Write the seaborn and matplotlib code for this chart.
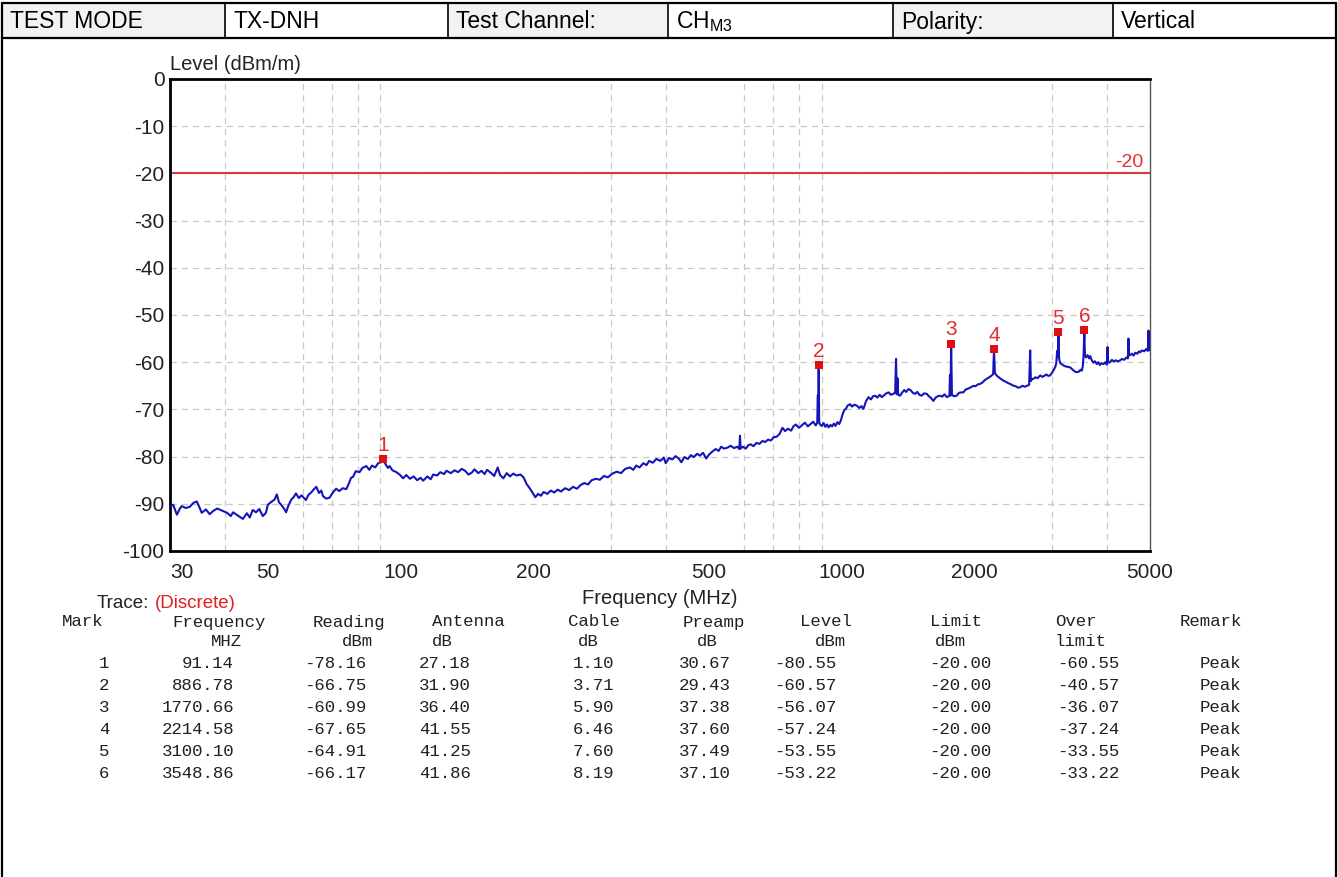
import matplotlib
matplotlib.use("Agg")
import matplotlib.pyplot as plt
import seaborn as sns
import pandas as pd
from matplotlib.patches import Rectangle
from matplotlib.ticker import FixedLocator, NullFormatter

# header row of the test report
header_cells = ["TEST MODE", "TX-DNH", "Test Channel:", r"CH$_{\mathrm{M3}}$", "Polarity:", "Vertical"]

trace_freq = [
    30.0, 30.5, 31.1, 31.6, 31.9, 32.6, 33.3, 33.9, 34.5, 35.0, 35.4, 36.2, 36.9, 37.6, 38.4, 39.5,
    40.4, 41.2, 41.7, 42.6, 43.9, 44.8, 45.5, 46.2, 47.0, 47.8, 48.7, 49.5, 50.0, 50.9, 51.8, 52.4,
    53.0, 53.6, 54.4, 55.0, 55.6, 56.5, 57.2, 57.9, 58.8, 59.6, 61.0, 61.8, 62.7, 63.6, 64.4, 65.3,
    66.1, 66.7, 67.8, 69.0, 70.2, 71.4, 72.6, 73.9, 75.3, 76.4, 77.2, 78.0, 79.1, 80.7, 81.9, 83.6,
    84.9, 86.1, 87.6, 88.9, 90.3, 91.14, 92.4, 93.6, 94.4, 95.8, 97.8, 99.5, 101.3, 103.0, 105.0, 107.0,
    109.0, 111.0, 112.5, 115.0, 117.0, 118.5, 121.0, 123.0, 125.5, 127.0, 130.0, 132.5, 135.0, 137.5, 140.0, 142.5,
    145.0, 147.0, 150.0, 152.5, 155.0, 157.0, 160.0, 163.0, 166.0, 168.0, 171.0, 174.0, 177.0, 180.0, 183.0, 187.0,
    190.0, 193.0, 196.5, 199.0, 202.0, 205.0, 208.0, 211.0, 215.0, 219.0, 223.0, 227.0, 231.0, 236.0, 241.0, 246.0,
    251.0, 256.0, 261.0, 266.0, 271.0, 277.0, 283.0, 289.0, 295.0, 302.0, 309.0, 316.0, 323.0, 331.0, 337.0, 342.0,
    348.0, 355.0, 361.0, 366.0, 373.0, 380.0, 388.0, 395.0, 399.0, 406.0, 413.0, 420.0, 427.0, 433.0, 440.0, 448.0,
    455.0, 462.0, 470.0, 477.0, 485.0, 493.0, 500.0, 508.0, 518.0, 526.0, 533.0, 541.0, 551.0, 560.0, 570.0, 580.0,
    586.0, 588.0, 590.0, 597.0, 606.0, 614.0, 622.0, 631.0, 641.0, 651.0, 661.0, 671.0, 681.0, 691.0, 701.0, 712.0,
    723.0, 734.0, 744.0, 755.0, 768.0, 777.0, 787.0, 800.0, 812.0, 825.0, 838.0, 850.0, 862.0, 873.0, 880.0, 883.0,
    884.5, 886.78, 889.0, 895.0, 901.0, 910.0, 918.0, 926.0, 934.0, 943.0, 951.0, 960.0, 968.0, 978.0, 987.0, 995.0,
    1005.0, 1014.0, 1022.0, 1031.0, 1045.0, 1055.0, 1068.0, 1082.0, 1096.0, 1108.0, 1120.0, 1135.0, 1150.0, 1165.0, 1178.0, 1191.0,
    1205.0, 1219.0, 1233.0, 1248.0, 1262.0, 1277.0, 1293.0, 1310.0, 1322.0, 1328.0, 1333.0, 1338.0, 1343.0, 1356.0, 1372.0, 1386.0,
    1400.0, 1417.0, 1432.0, 1450.0, 1467.0, 1484.0, 1500.0, 1518.0, 1538.0, 1559.0, 1576.0, 1595.0, 1614.0, 1633.0, 1652.0, 1671.0,
    1690.0, 1710.0, 1731.0, 1748.0, 1755.0, 1760.0, 1765.0, 1770.66, 1778.0, 1795.0, 1822.0, 1845.0, 1865.0, 1887.0, 1910.0, 1932.0,
    1955.0, 1989.0, 2010.0, 2035.0, 2060.0, 2085.0, 2110.0, 2133.0, 2160.0, 2190.0, 2205.0, 2214.58, 2225.0, 2245.0, 2270.0, 2300.0,
    2326.0, 2350.0, 2380.0, 2409.0, 2440.0, 2480.0, 2510.0, 2538.0, 2570.0, 2600.0, 2630.0, 2660.0, 2675.0, 2685.0, 2700.0, 2722.0,
    2750.0, 2780.0, 2819.0, 2850.0, 2880.0, 2910.0, 2940.0, 2969.0, 3000.0, 3025.0, 3047.0, 3065.0, 3080.0, 3090.0, 3100.1, 3112.0,
    3130.0, 3160.0, 3183.0, 3220.0, 3260.0, 3297.0, 3340.0, 3380.0, 3414.0, 3450.0, 3480.0, 3503.0, 3520.0, 3535.0, 3548.86, 3560.0,
    3580.0, 3610.0, 3640.0, 3660.0, 3690.0, 3720.0, 3750.0, 3789.0, 3820.0, 3850.0, 3880.0, 3921.0, 3960.0, 3990.0, 4006.0, 4020.0,
    4061.0, 4100.0, 4140.0, 4180.0, 4230.0, 4279.0, 4320.0, 4370.0, 4420.0, 4455.0, 4468.0, 4480.0, 4520.0, 4548.0, 4590.0, 4630.0,
    4680.0, 4720.0, 4750.0, 4800.0, 4850.0, 4890.0, 4917.0, 4945.0, 4960.0, 4975.0, 5000.0,
]
trace_level = [
    -90.6, -90.2, -92.3, -91.0, -90.5, -90.9, -90.6, -89.8, -89.5, -90.8, -91.9, -91.2, -92.2, -91.5, -91.0, -91.5,
    -91.9, -92.6, -91.8, -92.4, -93.2, -92.0, -92.9, -91.3, -91.8, -91.1, -92.6, -91.9, -90.2, -89.6, -89.1, -88.0,
    -89.7, -90.2, -91.0, -91.8, -90.5, -89.1, -88.6, -87.8, -88.8, -88.2, -89.2, -88.1, -87.6, -86.9, -86.4, -87.7,
    -87.2, -88.4, -88.9, -88.7, -87.6, -86.8, -87.3, -86.7, -86.9, -85.6, -84.5, -84.3, -83.1, -83.3, -82.4, -82.0,
    -82.8, -81.9, -82.3, -81.4, -81.2, -80.55, -81.6, -82.4, -82.0, -82.9, -83.3, -83.8, -84.6, -83.9, -84.7, -84.2,
    -85.0, -84.5, -85.1, -84.2, -84.8, -83.8, -84.0, -83.3, -83.7, -83.0, -83.5, -82.9, -83.3, -82.6, -83.0, -83.8,
    -83.4, -82.7, -83.5, -83.0, -83.7, -82.8, -83.4, -84.1, -82.3, -83.9, -84.6, -83.5, -84.2, -83.6, -84.0, -83.8,
    -84.4, -85.8, -86.8, -87.6, -88.6, -87.9, -88.3, -87.5, -87.9, -87.2, -87.6, -87.0, -87.4, -86.7, -87.1, -86.4,
    -86.8, -86.0, -85.6, -85.9, -85.0, -84.7, -84.9, -84.1, -84.4, -83.6, -83.2, -83.5, -82.6, -82.3, -82.8, -81.9,
    -82.3, -81.4, -81.8, -80.9, -81.3, -80.5, -80.9, -80.2, -81.4, -80.3, -80.6, -79.9, -80.4, -81.2, -80.1, -80.5,
    -79.7, -80.1, -79.4, -79.8, -79.2, -80.4, -79.6, -79.0, -78.4, -78.8, -77.9, -78.3, -78.1, -77.7, -78.2, -77.9,
    -78.4, -75.6, -78.3, -77.9, -78.3, -77.6, -77.4, -77.8, -77.1, -77.3, -76.7, -76.9, -76.4, -76.6, -75.9, -75.8,
    -75.2, -73.9, -74.6, -74.1, -74.5, -73.6, -73.2, -73.9, -73.4, -72.8, -73.6, -73.1, -72.6, -73.4, -72.9, -67.0,
    -72.5, -60.57, -72.8, -73.3, -73.5, -72.9, -73.7, -73.2, -73.8, -73.3, -73.6, -73.0, -73.5, -72.7, -73.1, -72.4,
    -71.0, -70.1, -69.9, -69.2, -68.9, -69.4, -69.0, -69.2, -69.7, -69.3, -69.9, -68.3, -67.4, -67.9, -67.2, -67.1,
    -67.5, -66.9, -67.4, -67.0, -66.6, -66.4, -66.9, -66.7, -66.4, -59.3, -66.8, -63.4, -66.9, -67.1, -66.4, -65.9,
    -66.3, -65.7, -65.9, -66.5, -66.7, -66.3, -66.9, -67.1, -66.6, -66.7, -67.2, -67.6, -68.2, -67.5, -67.2, -67.1,
    -67.3, -66.8, -67.4, -67.2, -67.0, -62.7, -67.1, -56.07, -66.9, -67.2, -67.1, -66.5, -66.4, -66.4, -65.8, -65.6,
    -65.4, -65.0, -65.1, -64.7, -64.6, -64.3, -63.8, -63.5, -63.2, -62.8, -62.5, -57.24, -62.3, -62.8, -63.2, -63.6,
    -63.9, -64.1, -64.4, -64.6, -64.9, -65.1, -65.4, -65.3, -65.0, -65.2, -65.0, -64.8, -57.5, -64.0, -63.6, -63.5,
    -63.2, -63.4, -62.8, -63.1, -62.9, -62.6, -62.9, -62.8, -62.2, -61.6, -61.1, -60.2, -57.6, -58.8, -53.55, -59.4,
    -60.2, -60.5, -60.7, -60.9, -61.0, -61.1, -61.6, -62.0, -62.1, -62.0, -61.6, -61.8, -60.9, -58.5, -53.22, -58.6,
    -59.0, -58.5, -59.2, -58.7, -59.6, -60.1, -59.8, -60.4, -60.0, -60.6, -60.2, -60.4, -60.0, -60.5, -56.8, -60.1,
    -60.0, -59.5, -59.9, -59.6, -59.8, -59.6, -59.3, -59.5, -59.0, -59.2, -55.0, -58.6, -58.4, -58.2, -58.6, -58.0,
    -58.2, -57.7, -57.9, -57.5, -57.7, -57.3, -57.2, -57.6, -53.3, -57.2, -57.5,
]

# marker table
mark_no = [1, 2, 3, 4, 5, 6]
mark_freq = [91.14, 886.78, 1770.66, 2214.58, 3100.10, 3548.86]
mark_reading = [-78.16, -66.75, -60.99, -67.65, -64.91, -66.17]
mark_antenna = [27.18, 31.90, 36.40, 41.55, 41.25, 41.86]
mark_cable = [1.10, 3.71, 5.90, 6.46, 7.60, 8.19]
mark_preamp = [30.67, 29.43, 37.38, 37.60, 37.49, 37.10]
mark_level = [-80.55, -60.57, -56.07, -57.24, -53.55, -53.22]
mark_limit = [-20.00, -20.00, -20.00, -20.00, -20.00, -20.00]
mark_over = [-60.55, -40.57, -36.07, -37.24, -33.55, -33.22]
mark_remark = ["Peak"] * 6

limit_level = -20
xtick_vals = [30, 50, 100, 200, 500, 1000, 2000, 5000]
xgrid_vals = [40, 50, 60, 70, 80, 90, 100, 200, 300, 400, 500, 600, 700, 800, 900,
              1000, 2000, 3000, 4000]
ytick_vals = [0, -10, -20, -30, -40, -50, -60, -70, -80, -90, -100]

sns.set_style("white")
plt.rcParams["font.family"] = ["Liberation Sans", "DejaVu Sans"]
plt.rcParams["mathtext.fontset"] = "custom"
plt.rcParams["mathtext.rm"] = "Liberation Sans"

W, H = 1338, 877
fig = plt.figure(figsize=(W / 100, H / 100), dpi=100)

# background layer in pixel coordinates
bg = fig.add_axes([0, 0, 1, 1])
bg.set_xlim(0, W)
bg.set_ylim(H, 0)
bg.axis("off")

col_edges = [2, 225, 448, 668, 893, 1113, 1336]
for i, txt in enumerate(header_cells):
    x0, x1 = col_edges[i], col_edges[i + 1]
    if i % 2 == 0:
        bg.add_patch(Rectangle((x0, 3), x1 - x0, 35, facecolor="#f2f2f2", edgecolor="none"))
    bg.text(x0 + 8, 22, txt, fontsize=16.5, va="center", ha="left", color="black")
bg.plot([2, 1336], [3, 3], color="black", lw=1.6)
bg.plot([2, 1336], [38, 38], color="black", lw=1.6)
for x in col_edges[1:-1]:
    bg.plot([x, x], [3, 38], color="black", lw=1.2)
bg.plot([2, 2], [3, H], color="black", lw=1.6)
bg.plot([1336, 1336], [3, H], color="black", lw=1.6)

# chart
ax = fig.add_axes([170 / W, 1 - 551 / H, 980 / W, 472 / H])
df = pd.DataFrame({"freq": trace_freq, "level": trace_level})
sns.lineplot(data=df, x="freq", y="level", ax=ax, color="#1414b8", lw=1.5,
             estimator=None, sort=False, zorder=3)
ax.axhline(limit_level, color="#d83a3a", lw=1.5, zorder=2)
sns.scatterplot(x=mark_freq, y=mark_level, ax=ax, marker="s", color="#e01010",
                s=28, linewidth=0, zorder=5)
for n, f, lv in zip(mark_no, mark_freq, mark_level):
    ax.annotate(str(n), (f, lv), xytext=(0, 3), textcoords="offset points",
                ha="center", va="bottom", color="#e03030", fontsize=15, zorder=6)
ax.text(4480, limit_level + 0.6, str(limit_level), color="#e03030", fontsize=14,
        ha="center", va="bottom")

ax.set_xscale("log")
ax.set_xlim(30, 5000)
ax.set_ylim(-100, 0)
ax.set_xticks(xtick_vals)
ax.set_xticklabels([str(v) for v in xtick_vals])
ax.xaxis.set_minor_locator(FixedLocator(xgrid_vals))
ax.xaxis.set_minor_formatter(NullFormatter())
ax.set_yticks(ytick_vals)
ax.set_yticklabels([str(v) for v in ytick_vals])
ax.tick_params(which="both", length=0, labelsize=15, labelcolor="#222222")
ax.tick_params(axis="x", pad=9)
ax.tick_params(axis="y", pad=4)
ax.get_xticklabels()[0].set_ha("left")
ax.grid(False)
ax.xaxis.grid(True, which="minor", color="#c8c8c8", ls=(0, (5, 4)), lw=0.9)
ax.yaxis.grid(True, which="major", color="#c8c8c8", ls=(0, (5, 4)), lw=0.9)
ax.set_xlabel("")
ax.set_ylabel("")
for side in ["left", "bottom", "top"]:
    ax.spines[side].set_color("black")
    ax.spines[side].set_linewidth(2.0)
ax.spines["right"].set_color("#555555")
ax.spines["right"].set_linewidth(1.0)

ax.text(0, 1 + 15 / 472, "Level (dBm/m)", transform=ax.transAxes, ha="left", va="center",
        fontsize=14.5, color="#222222")
bg.text(660, 599, "Frequency (MHz)", ha="center", va="center", fontsize=14.5, color="#222222")
bg.text(97, 603, "Trace:", ha="left", va="center", fontsize=13.5, color="#222222")
bg.text(155, 603, "(Discrete)", ha="left", va="center", fontsize=13.5, color="#e02020")

# marker table
mono = "Liberation Mono"
tcol = "#202020"
tsize = 12.5
head1 = [("Mark", 62), ("Frequency", 172), ("Reading", 313), ("Antenna", 432), ("Cable", 568),
         ("Preamp", 683), ("Level", 800), ("Limit", 930), ("Over", 1055), ("Remark", 1180)]
head2 = [("MHZ", 211), ("dBm", 342), ("dB", 432), ("dB", 578), ("dB", 697), ("dBm", 815),
         ("dBm", 935), ("limit", 1055)]
for txt, x in head1:
    bg.text(x, 622, txt, family=mono, fontsize=tsize, color=tcol, ha="left", va="center")
for txt, x in head2:
    bg.text(x, 642, txt, family=mono, fontsize=tsize, color=tcol, ha="left", va="center")

right_edges = [109, 234, 366, 471, 614, 731, 836, 991, 1119, 1241]
for r in range(len(mark_no)):
    y = 663 + 22 * r
    cells = [str(mark_no[r]), f"{mark_freq[r]:.2f}", f"{mark_reading[r]:.2f}",
             f"{mark_antenna[r]:.2f}", f"{mark_cable[r]:.2f}", f"{mark_preamp[r]:.2f}",
             f"{mark_level[r]:.2f}", f"{mark_limit[r]:.2f}", f"{mark_over[r]:.2f}", mark_remark[r]]
    for txt, x in zip(cells, right_edges):
        bg.text(x, y, txt, family=mono, fontsize=tsize, color=tcol, ha="right", va="center")

fig.savefig("out.png", dpi=100)
